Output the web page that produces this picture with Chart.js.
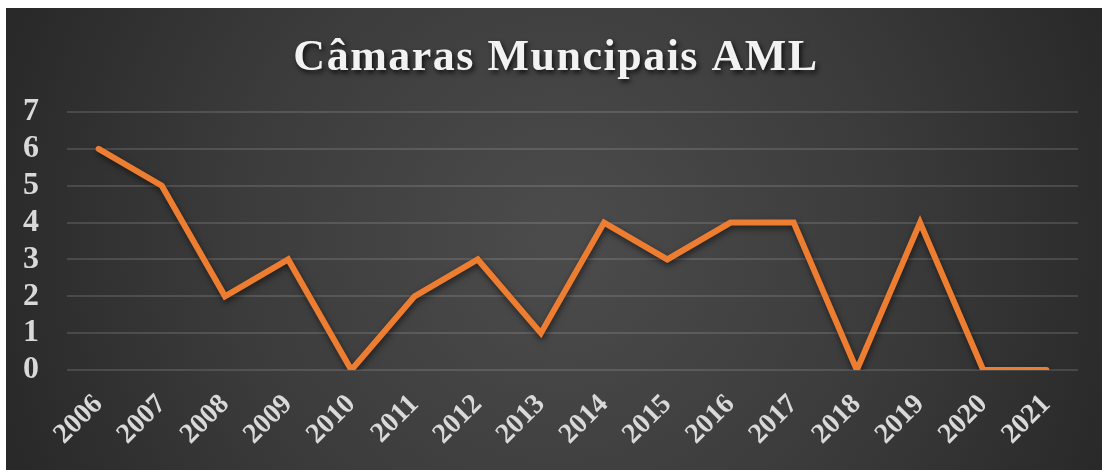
<!DOCTYPE html>
<html>
<head>
<meta charset="utf-8">
<script src="https://cdn.jsdelivr.net/npm/chart.js@4.4.1/dist/chart.umd.min.js"></script>
<style>
  html, body { margin: 0; padding: 0; background: #fff; }
  #wrap { width: 1102px; height: 470px; }
</style>
</head>
<body>
<div id="wrap"><canvas id="camaras-chart" width="1102" height="470"></canvas></div>
<script>
const chartTitle = 'Câmaras Muncipais AML';
const years = ['2006', '2007', '2008', '2009', '2010', '2011', '2012', '2013',
  '2014', '2015', '2016', '2017', '2018', '2019', '2020', '2021'];
const counts = [6, 5, 2, 3, 0, 2, 3, 1, 4, 3, 4, 4, 0, 4, 0, 0];
const yTicks = [0, 1, 2, 3, 4, 5, 6, 7];

const serif = '"Liberation Serif", "Times New Roman", serif';

// dark radial panel behind everything, with the thin white margin top/left
const panelBg = {
  id: 'panelBg',
  beforeDraw(chart) {
    const ctx = chart.ctx;
    const w = chart.width, h = chart.height;
    ctx.save();
    ctx.fillStyle = '#ffffff';
    ctx.fillRect(0, 0, w, h);
    const g = ctx.createRadialGradient(560, 240, 20, 560, 240, 640);
    g.addColorStop(0, '#4b4b4b');
    g.addColorStop(0.5, '#3b3b3b');
    g.addColorStop(1, '#252525');
    ctx.fillStyle = g;
    ctx.fillRect(6, 8, w - 6, h - 8);
    ctx.restore();
  },
  afterDraw(chart) {
    const ctx = chart.ctx;
    ctx.save();
    ctx.font = 'bold 44px ' + serif;
    ctx.letterSpacing = '1.5px';
    ctx.textAlign = 'center';
    ctx.textBaseline = 'alphabetic';
    ctx.shadowColor = 'rgba(0,0,0,0.75)';
    ctx.shadowBlur = 5;
    ctx.shadowOffsetX = 2;
    ctx.shadowOffsetY = 3;
    ctx.fillStyle = '#f2f2f2';
    ctx.fillText(chartTitle, 556, 70);
    ctx.restore();
  }
};

const lineShadow = {
  id: 'lineShadow',
  beforeDatasetDraw(chart) {
    const ctx = chart.ctx;
    ctx.save();
    ctx.shadowColor = 'rgba(0,0,0,0.55)';
    ctx.shadowBlur = 6;
    ctx.shadowOffsetX = 1;
    ctx.shadowOffsetY = 3;
  },
  afterDatasetDraw(chart) {
    chart.ctx.restore();
  }
};

new Chart(document.getElementById('camaras-chart'), {
  type: 'line',
  data: {
    labels: years,
    datasets: [{
      label: chartTitle,
      data: counts,
      borderColor: '#ED7D31',
      borderWidth: 6,
      borderCapStyle: 'round',
      borderJoinStyle: 'miter',
      pointRadius: 0,
      pointHoverRadius: 0,
      tension: 0,
      fill: false
    }]
  },
  options: {
    responsive: false,
    animation: false,
    events: [],
    layout: { padding: { left: 0, top: 112, right: 24, bottom: 0 } },
    plugins: {
      legend: { display: false },
      title: { display: false },
      tooltip: { enabled: false }
    },
    scales: {
      x: {
        offset: true,
        grid: { display: false, drawTicks: false },
        border: { display: false },
        ticks: {
          color: '#d9d9d9',
          font: { family: serif, size: 28, weight: 'bold' },
          minRotation: 45,
          maxRotation: 45,
          autoSkip: false,
          padding: 18
        },
        afterFit(scale) { scale.height = 100; }
      },
      y: {
        min: 0,
        max: 7,
        afterBuildTicks(scale) { scale.ticks = yTicks.map(v => ({ value: v })); },
        grid: { color: 'rgba(255,255,255,0.13)', lineWidth: 2, drawTicks: false },
        border: { display: false },
        ticks: {
          color: '#d9d9d9',
          font: { family: serif, size: 32, weight: 'bold' },
          autoSkip: false,
          stepSize: 1,
          padding: 28
        },
        afterFit(scale) { scale.width = 67; }
      }
    }
  },
  plugins: [panelBg, lineShadow]
});
</script>
</body>
</html>
